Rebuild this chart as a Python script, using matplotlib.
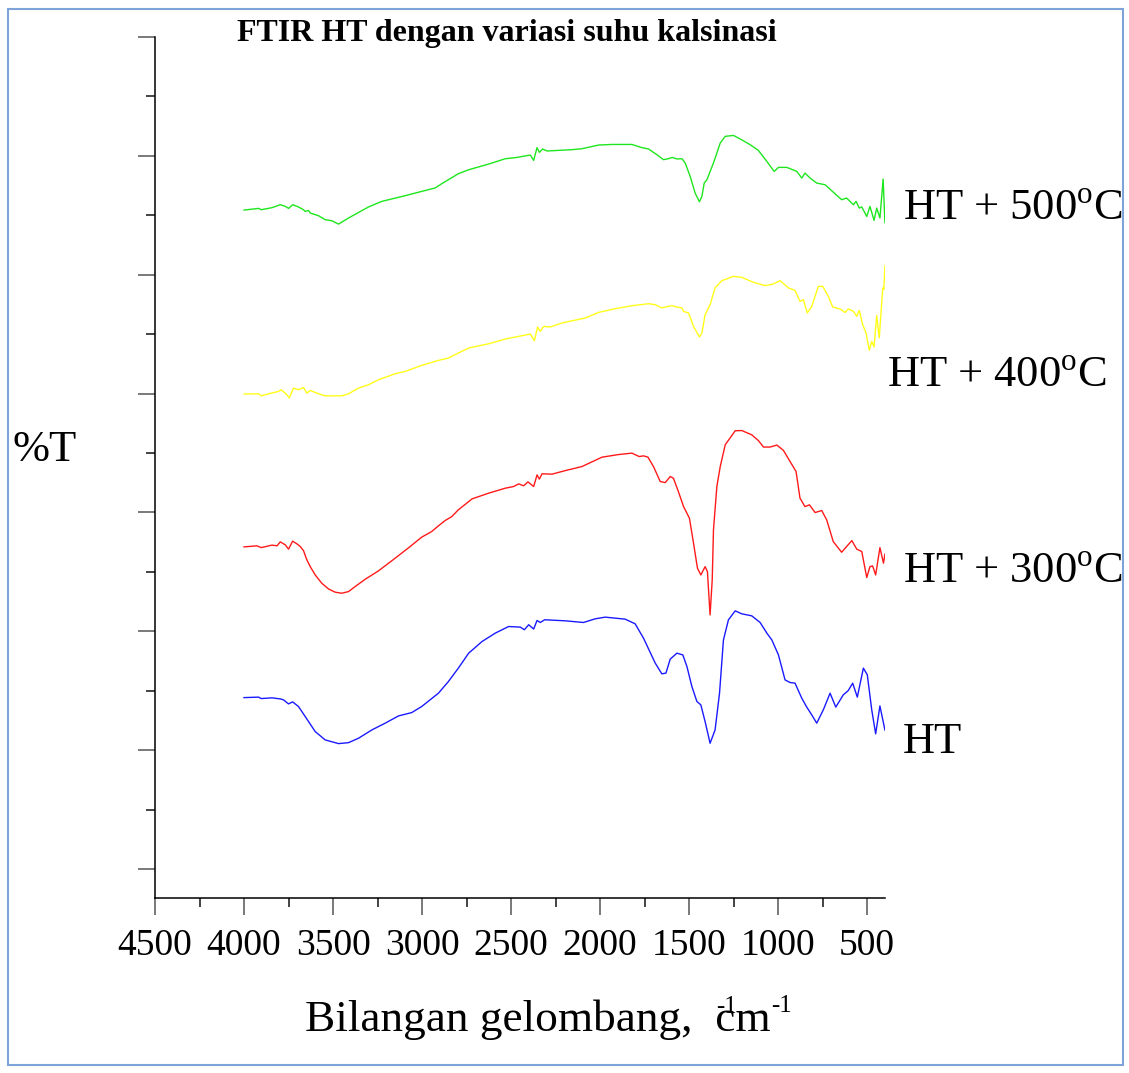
import matplotlib
matplotlib.use("Agg")
import matplotlib.pyplot as plt
from matplotlib.patches import Rectangle
from matplotlib.ticker import MultipleLocator, FixedLocator

plt.rcParams['font.family'] = ['Liberation Serif', 'DejaVu Serif']
plt.rcParams['mathtext.fontset'] = 'custom'
plt.rcParams['mathtext.rm'] = 'Liberation Serif'

# ---------------- FTIR spectra (wavenumber in cm^-1, %T offset-stacked) ----------------
wn_500 = [4000, 3918, 3903, 3843, 3796, 3768, 3750, 3726, 3694, 3666, 3656, 3638, 3628,
          3581, 3544, 3507, 3469, 3413, 3301, 3226, 3095, 3002, 2926, 2889, 2796, 2738,
          2626, 2532, 2466, 2392, 2373, 2354, 2341, 2323, 2298, 2158, 2102, 2008, 1933,
          1821, 1765, 1728, 1681, 1644, 1616, 1595, 1568, 1540, 1522, 1494, 1466, 1442,
          1428, 1415, 1400, 1363, 1325, 1297, 1251, 1213, 1157, 1111, 1063, 1022, 998,
          951, 895, 867, 849, 820, 783, 736, 680, 643, 615, 577, 562, 544, 530, 502, 484,
          461, 446, 428, 410, 400]
t_500 = [65.44, 65.58, 65.47, 65.64, 65.89, 65.75, 65.58, 65.89, 65.70, 65.47, 65.32, 65.41,
         65.19, 64.96, 64.63, 64.54, 64.26, 64.77, 65.70, 66.17, 66.65, 67.01, 67.30, 67.66,
         68.50, 68.83, 69.31, 69.76, 69.87, 70.07, 69.62, 70.69, 70.29, 70.58, 70.41, 70.52,
         70.60, 70.91, 70.96, 70.96, 70.69, 70.58, 70.10, 69.68, 69.76, 69.87, 69.74, 69.76,
         69.40, 68.28, 66.87, 66.14, 66.59, 67.71, 67.99, 69.40, 71.08, 71.64, 71.72, 71.42,
         70.94, 70.46, 69.53, 68.69, 69.03, 69.03, 68.69, 68.13, 68.55, 68.13, 67.71, 67.57,
         66.81, 66.31, 66.45, 65.89, 66.17, 65.61, 65.70, 64.90, 65.75, 64.57, 65.61, 64.77,
         68.05, 64.38]

wn_400 = [4000, 3918, 3903, 3862, 3806, 3791, 3759, 3746, 3722, 3694, 3666, 3647, 3628,
          3581, 3544, 3451, 3413, 3357, 3301, 3245, 3151, 3095, 3002, 2908, 2852, 2796,
          2738, 2626, 2532, 2438, 2392, 2369, 2351, 2336, 2317, 2280, 2214, 2083, 2008,
          1915, 1821, 1728, 1690, 1653, 1616, 1595, 1568, 1540, 1531, 1503, 1475, 1442,
          1428, 1410, 1382, 1354, 1316, 1251, 1204, 1139, 1073, 1026, 989, 942, 905, 877,
          858, 836, 811, 774, 749, 718, 693, 652, 624, 606, 577, 558, 544, 525, 506, 488,
          474, 461, 446, 432, 412, 406, 400]
t_400 = [49.96, 49.98, 49.81, 49.98, 50.18, 50.32, 49.90, 49.62, 50.46, 50.32, 50.51, 50.04,
         50.26, 49.98, 49.81, 49.81, 49.98, 50.46, 50.74, 51.16, 51.67, 51.86, 52.37, 52.79,
         52.99, 53.41, 53.83, 54.19, 54.59, 54.87, 55.01, 54.45, 55.60, 55.23, 55.65, 55.60,
         55.94, 56.36, 56.83, 57.14, 57.39, 57.56, 57.48, 57.20, 57.34, 57.39, 57.28, 57.20,
         56.91, 56.78, 55.65, 54.76, 55.09, 56.64, 57.48, 58.89, 59.50, 59.86, 59.78, 59.36,
         59.08, 59.22, 59.50, 58.89, 58.68, 57.76, 57.90, 56.78, 57.34, 59.02, 59.02, 58.18,
         57.28, 57.12, 56.83, 57.12, 56.92, 56.50, 57.00, 55.80, 55.10, 53.64, 54.40, 53.92,
         56.56, 54.68, 58.89, 58.75, 60.77]

wn_300 = [4000, 3928, 3903, 3843, 3815, 3796, 3768, 3750, 3727, 3703, 3684, 3666, 3647,
          3628, 3600, 3563, 3525, 3488, 3451, 3413, 3376, 3319, 3245, 3151, 3076, 3002,
          2946, 2908, 2870, 2833, 2796, 2719, 2626, 2532, 2486, 2457, 2429, 2405, 2373,
          2354, 2341, 2326, 2270, 2195, 2102, 1989, 1896, 1821, 1780, 1756, 1731, 1700,
          1662, 1634, 1606, 1588, 1560, 1531, 1498, 1475, 1453, 1434, 1410, 1397, 1382,
          1370, 1363, 1344, 1325, 1297, 1241, 1204, 1148, 1111, 1082, 1045, 1007, 970,
          933, 899, 877, 849, 824, 792, 755, 727, 690, 643, 586, 558, 530, 502, 484, 469,
          452, 428, 408, 400]
t_300 = [37.10, 37.19, 37.04, 37.25, 37.19, 37.52, 37.27, 36.91, 37.58, 37.36, 37.13, 36.79,
         36.01, 35.44, 34.74, 34.04, 33.56, 33.29, 33.20, 33.34, 33.76, 34.38, 35.08, 36.15,
         37.02, 37.92, 38.39, 38.87, 39.32, 39.65, 40.22, 41.14, 41.62, 42.04, 42.18, 42.40,
         42.24, 42.57, 42.18, 43.16, 42.80, 43.25, 43.22, 43.52, 43.86, 44.65, 44.87, 44.99,
         44.70, 44.76, 44.65, 43.86, 42.60, 42.51, 43.02, 42.88, 41.75, 40.49, 39.51, 37.41,
         35.31, 34.74, 35.44, 35.02, 31.38, 34.33, 38.53, 42.18, 43.86, 45.69, 46.87, 46.89,
         46.53, 46.05, 45.50, 45.50, 45.67, 45.22, 44.29, 43.44, 41.20, 40.49, 40.64, 39.99,
         40.16, 39.37, 37.54, 36.65, 37.63, 36.91, 36.71, 34.52, 35.44, 35.50, 34.74, 37.04,
         35.73, 36.49]

wn_ht = [4000, 3918, 3903, 3843, 3796, 3778, 3750, 3727, 3694, 3656, 3600, 3544, 3469,
         3413, 3357, 3282, 3207, 3132, 3058, 3002, 2908, 2852, 2796, 2738, 2663, 2588,
         2514, 2448, 2425, 2401, 2373, 2354, 2336, 2311, 2195, 2093, 2027, 1971, 1859,
         1803, 1756, 1690, 1653, 1630, 1606, 1568, 1535, 1512, 1484, 1456, 1434, 1410,
         1382, 1354, 1329, 1307, 1279, 1241, 1204, 1148, 1101, 1063, 1035, 998, 961, 933,
         905, 867, 839, 811, 783, 746, 708, 676, 634, 606, 581, 555, 521, 499, 474, 452,
         428, 400]
t_ht = [24.42, 24.46, 24.34, 24.40, 24.31, 24.23, 23.89, 24.06, 23.67, 22.82, 21.56, 20.86,
        20.55, 20.63, 21.00, 21.70, 22.27, 22.88, 23.16, 23.67, 24.79, 25.77, 26.90, 28.16,
        29.14, 29.85, 30.40, 30.35, 30.13, 30.55, 30.19, 30.91, 30.74, 30.97, 30.88, 30.74,
        31.05, 31.19, 31.02, 30.63, 29.42, 27.32, 26.42, 26.48, 27.66, 28.16, 28.01, 27.03,
        25.34, 24.09, 23.81, 22.40, 20.58, 21.70, 24.79, 29.27, 30.96, 31.72, 31.47, 31.30,
        30.74, 29.84, 29.27, 28.01, 25.91, 25.69, 25.64, 24.37, 23.62, 22.97, 22.27, 23.39,
        24.79, 23.62, 24.65, 25.01, 25.63, 24.46, 26.90, 26.34, 23.39, 21.37, 23.72, 21.70]

series = [
    (wn_500, t_500, "#1ee61e"),
    (wn_400, t_400, "#ffff1a"),
    (wn_300, t_300, "#ff1a1a"),
    (wn_ht, t_ht, "#1a1aff"),
]

x_major = [4500, 4000, 3500, 3000, 2500, 2000, 1500, 1000, 500]

W, H = 1129, 1073
fig = plt.figure(figsize=(W / 100, H / 100), dpi=100)
ax = fig.add_axes([155 / W, 1 - 898 / H, 730 / W, 861 / H])

for wn, t, c in series:
    ax.plot(wn, t, color=c, lw=1.0, solid_joinstyle='round')

ax.set_xlim(4500, 399.5)
ax.set_ylim(7.56, 80)

for s in ['top', 'right']:
    ax.spines[s].set_visible(False)
for s in ['left', 'bottom']:
    ax.spines[s].set_linewidth(1.1)

ax.xaxis.set_major_locator(FixedLocator(x_major))
ax.xaxis.set_minor_locator(MultipleLocator(250))
ax.yaxis.set_major_locator(MultipleLocator(10))
ax.yaxis.set_minor_locator(MultipleLocator(5))
ax.set_yticklabels([])
ax.tick_params(axis='both', which='major', length=12, width=1.1, color='#555555',
               direction='out')
ax.tick_params(axis='both', which='minor', length=6.5, width=1.1, color='#111111',
               direction='out')
ax.tick_params(axis='x', which='major', labelsize=27, pad=10)
ax.tick_params(axis='y', which='both', labelleft=False)

# Titles and axis captions
fig.text(507 / W, 1 - 33 / H, "FTIR HT dengan variasi suhu kalsinasi",
         fontsize=23, fontweight='bold', ha='center', va='center')
fig.text(12 / W, 1 - 450 / H, "%T", fontsize=32, ha='left', va='center')
fig.text(305 / W, 1 - 1031 / H, "Bilangan gelombang,  cm", fontsize=32.6,
         ha='left', va='baseline')
fig.text(716 / W, 1 - 1013 / H, "-1", fontsize=18, ha='left', va='baseline')
fig.text(771 / W, 1 - 1012 / H, "-1", fontsize=18, ha='left', va='baseline')

# Curve labels
labels = [
    ("HT + 500$^{\\mathrm{o}}$C", 903, 210),
    ("HT + 400$^{\\mathrm{o}}$C", 887, 377),
    ("HT + 300$^{\\mathrm{o}}$C", 903, 573),
    ("HT", 903, 742),
]
for txt, xp, yp in labels:
    fig.text(xp / W, 1 - yp / H, txt, fontsize=32, ha='left', va='center')

# Outer frame
fig.patches.append(Rectangle((8 / W, 1 - 1065 / H), (1123 - 8) / W, (1065 - 9) / H,
                             transform=fig.transFigure, fill=False,
                             edgecolor='#7da3d9', lw=1.5))

fig.savefig("out.png", dpi=100)
